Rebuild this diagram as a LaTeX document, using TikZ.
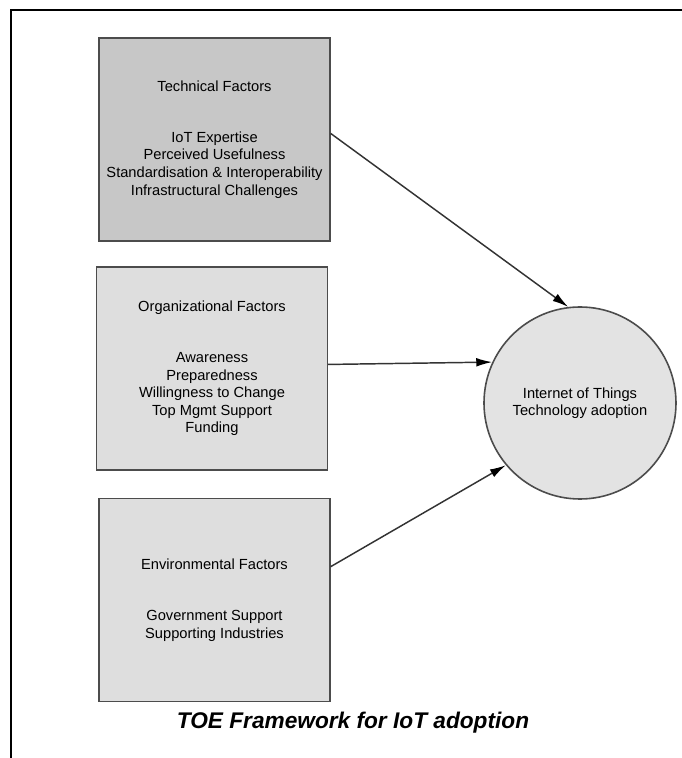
\documentclass[tikz,border=0pt]{standalone}
\usepackage{fontspec}
\setmainfont{Liberation Sans}
\usetikzlibrary{arrows.meta}

\tikzset{
	factor/.style={draw=black!70, line width=1.2pt, minimum width=173pt, minimum height=152pt, inner sep=0pt, align=center, font=\fontsize{11}{13.2}\selectfont},
	outcome/.style={circle, draw=black!70, line width=1.2pt, fill=black!11, minimum size=144pt, inner sep=0pt, align=center, font=\fontsize{11}{12.6}\selectfont},
	link/.style={draw=black!80, line width=1.1pt, -{Latex[length=12pt,width=6.5pt,color=black]}}
}

\begin{document}
\begin{tikzpicture}[x=0.75pt, y=0.75pt]
		\useasboundingbox (0,0) rectangle (682,758);
		\draw[line width=1.5pt] (10.5,0) -- (10.5,748) -- (682,748);
		% the three groups of factors
		\node[factor, fill=black!22] (tech) at (214.5,618.5) {Technical Factors\\[25pt]IoT Expertise\\Perceived Usefulness\\Standardisation \& Interoperability\\Infrastructural Challenges};
		\node[factor, fill=black!13] (org) at (212,389.5) {Organizational Factors\\[25pt]Awareness\\Preparedness\\Willingness to Change\\Top Mgmt Support\\Funding};
		\node[factor, fill=black!13] (env) at (214.5,158) {Environmental Factors\\[25pt]Government Support\\Supporting Industries};
		\node[outcome] (iot) at (580,355) {Internet of Things\\Technology adoption};
		\draw[link] (tech.3) -- (iot.97);
		\draw[link] (org.2) -- (iot.155);
		\draw[link] (env.16) -- (iot.220);
		\node[font=\fontsize{17}{20}\selectfont\bfseries\itshape] (caption) at (353,35) {TOE Framework for IoT adoption};
	\end{tikzpicture}
\end{document}
